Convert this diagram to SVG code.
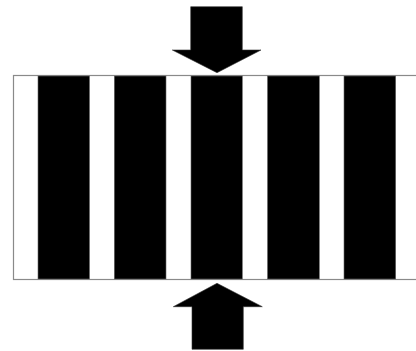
<svg xmlns="http://www.w3.org/2000/svg" width="416" height="351" viewBox="0 0 416 351">
<style>
.stripe{fill:#000;stroke:#666;stroke-width:0.6}
.arrow{fill:#000;stroke:#333;stroke-width:0.6}
</style>
<rect width="416" height="351" fill="#fff"/>
<g id="grating">
<rect x="13.5" y="75.5" width="410" height="204" fill="#fff" stroke="#8a8a8a" stroke-width="1.2"/>
<rect class="stripe" x="38" y="76" width="51.5" height="203"/>
<rect class="stripe" x="114.3" y="76" width="51.7" height="203"/>
<rect class="stripe" x="191" y="76" width="51.3" height="203"/>
<rect class="stripe" x="267.5" y="76" width="51.8" height="203"/>
<rect class="stripe" x="344" y="76" width="51.7" height="203"/>
</g>
<g id="arrow-top">
<polygon class="arrow" points="190.7,6.7 242.3,6.7 242.3,50 261,50 217,72.7 172.3,50 190.7,50"/>
</g>
<g id="arrow-bottom">
<polygon class="arrow" points="217,283.3 262.3,306.7 243.3,306.7 243.3,349.3 192,349.3 192,306.7 173.3,306.7"/>
</g>
</svg>
